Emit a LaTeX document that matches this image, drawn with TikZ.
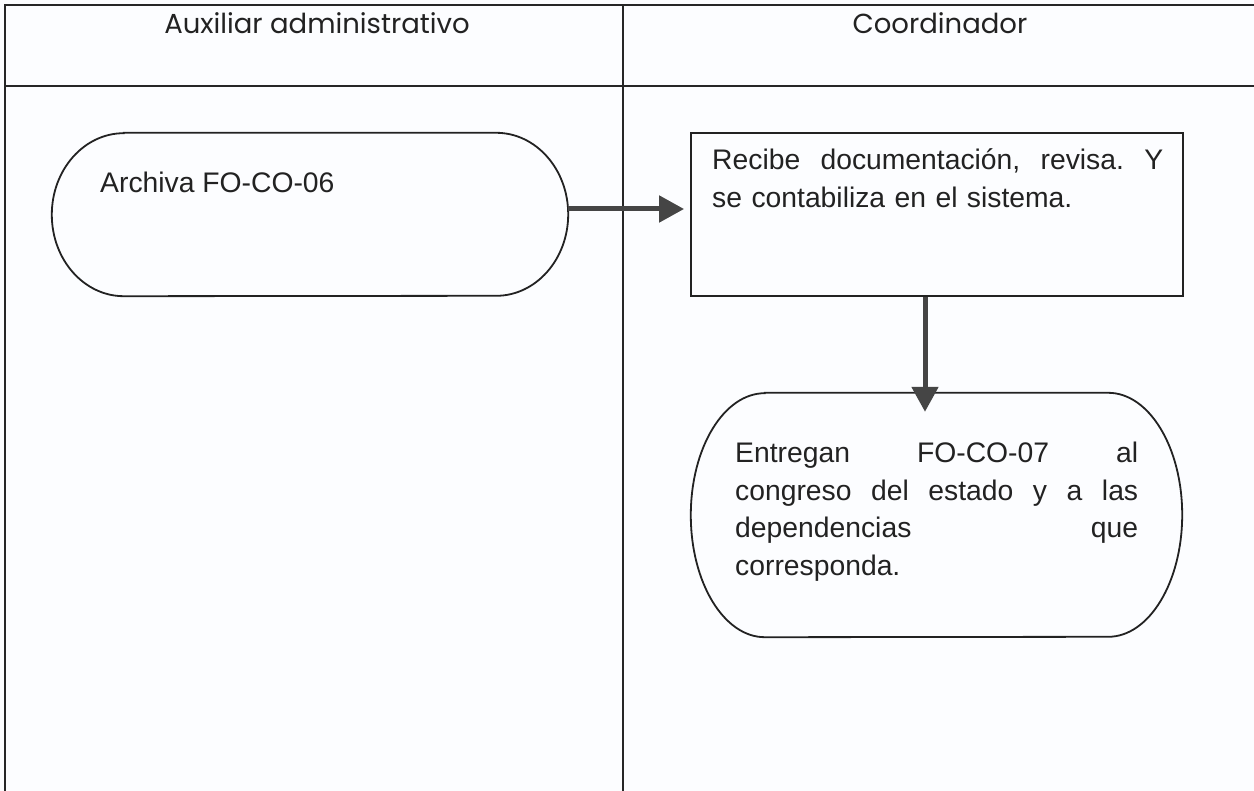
\documentclass[tikz,border=0pt]{standalone}
\usepackage{fontspec}
\setmainfont{Liberation Sans}
\newfontfamily\hdrfont{Poppins}
\usetikzlibrary{arrows.meta}
\definecolor{ink}{HTML}{222222}
\definecolor{arrowgray}{HTML}{454545}
\definecolor{paper}{HTML}{FCFDFF}
\frenchspacing
\begin{document}
\begin{tikzpicture}[x=1pt,y=1pt,
  grid/.style={line width=1.3pt, draw=black!85},
  shapeline/.style={line width=1.8pt, draw=ink},
  hdr/.style={font=\hdrfont\fontsize{27.5}{32}\selectfont, text=ink, inner sep=0pt},
  body/.style={font=\fontsize{28.3}{37.5}\selectfont, text=ink, inner sep=0pt, align=left},
  flow/.style={line width=5pt, draw=arrowgray, -{Triangle[length=25pt,width=26pt,fill=arrowgray]}},
  box/.style={draw=none, rectangle, inner sep=0pt}]
\path[use as bounding box, fill=paper] (0,0) rectangle (1254,-791);

% lane grid
\draw[grid] (1254,-5) -- (5,-5) -- (5,-791);
\draw[grid] (623,-5) -- (623,-791);
\draw[grid] (5,-86) -- (1254,-86);

% headers
\node[hdr, anchor=base] (hA) at (317,-34) {Auxiliar administrativo};
\node[hdr, anchor=base] (hB) at (940,-34) {Coordinador};

% terminator 1
\node[box, minimum width=516pt, minimum height=163pt] (t1) at (310,-214.5) {};
\draw[shapeline] ([xshift=72pt]t1.north west) -- ([xshift=-72pt]t1.north east)
  arc[start angle=90, end angle=-90, x radius=72pt, y radius=81.5pt]
  -- ([xshift=72pt]t1.south west)
  arc[start angle=270, end angle=90, x radius=72pt, y radius=81.5pt] -- cycle;
\node[body, anchor=base west] (t1txt) at (100,-193) {Archiva FO-CO-06};

% process box
\node[box, draw=ink, line width=1.8pt, minimum width=492pt, minimum height=163pt] (r1) at (937,-214.5) {};
\node[body, anchor=base west, text width=451pt] (r1txt) at (712,-170)
  {\makebox[451pt]{Recibe\hfill documentación,\hfill revisa.\hfill Y}\\se contabiliza en el sistema.};

% terminator 2
\node[box, minimum width=491pt, minimum height=244pt] (t2) at (936.5,-515) {};
\draw[shapeline] ([xshift=74pt]t2.north west) -- ([xshift=-74pt]t2.north east)
  arc[start angle=90, end angle=-90, x radius=74pt, y radius=122pt]
  -- ([xshift=74pt]t2.south west)
  arc[start angle=270, end angle=90, x radius=74pt, y radius=122pt] -- cycle;
\node[body, anchor=base west, text width=403pt] (t2txt) at (735,-463)
  {\makebox[403pt]{Entregan\hfill FO-CO-07\hfill al}\\
   \makebox[403pt]{congreso\hfill del\hfill estado\hfill y\hfill a\hfill las}\\
   \makebox[403pt]{dependencias\hfill que}\\
   corresponda.};

% connectors
\draw[flow] ([yshift=5.5pt]t1.east) -- ([yshift=5.5pt,xshift=-6pt]r1.west);
\coordinate (v1) at ([xshift=-12pt]r1.south);
\coordinate (v2) at ([yshift=-19pt]t2.north);
\draw[flow] (v1) -- (v1 |- v2);
\end{tikzpicture}
\end{document}
